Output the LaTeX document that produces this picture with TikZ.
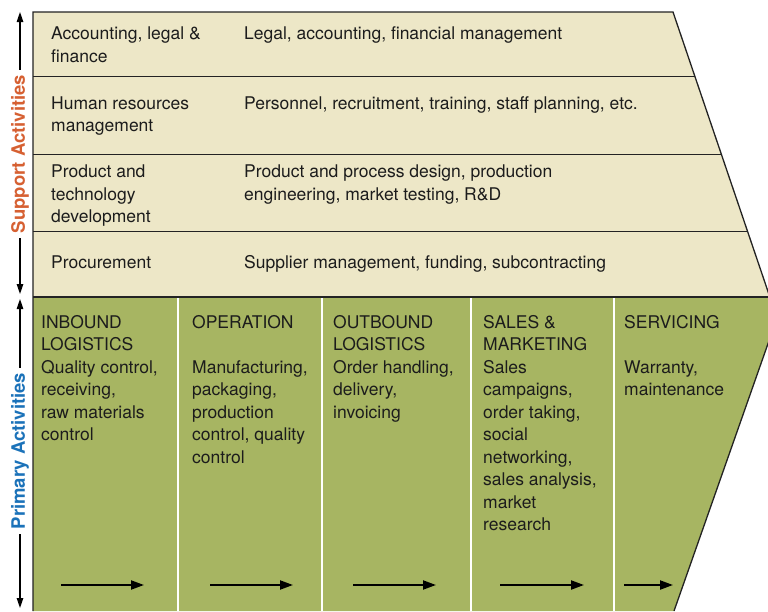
\documentclass[tikz,border=0pt]{standalone}
\usepackage{fontspec}
\setmainfont{TeX Gyre Heros}
\usetikzlibrary{arrows.meta}
\definecolor{suppbg}{RGB}{237,231,199}
\definecolor{primbg}{RGB}{167,181,98}
\definecolor{supporange}{RGB}{214,96,50}
\definecolor{primblue}{RGB}{27,114,185}
\definecolor{ink}{RGB}{28,28,28}
\definecolor{edge}{RGB}{35,35,35}
\begin{document}
\begin{tikzpicture}[x=1pt,y=-1pt,
  txt/.style={anchor=base west, inner sep=0pt, text=ink,
    font=\fontsize{17.5}{22.5}\selectfont},
  sidelbl/.style={rotate=90, inner sep=5pt,
    font=\fontsize{18.5}{20}\selectfont\bfseries},
  varrow/.style={draw=black, line width=1.2pt, -{Triangle[length=10pt,width=6.5pt]}},
  flowarrow/.style={draw=black, line width=2pt, -{Triangle[length=13pt,width=9pt]}},
  sepline/.style={draw=edge, line width=1pt},
  divline/.style={draw=white, line width=2.5pt}]
\useasboundingbox (0,0) rectangle (768,611);
\clip (0,0) rectangle (768,611);
% background shapes
\fill[suppbg] (33,12) -- (673,12) -- (769.9,297) -- (33,297) -- cycle;
\fill[primbg] (33,297) -- (769.9,297) -- (777,318) -- (674,611) -- (33,611) -- cycle;
% column dividers
\foreach \xx in {178,322,471,614} \draw[divline] (\xx,298) -- (\xx,611);
% row separators
\draw[sepline] (33,76) -- (694.8,76);
\draw[sepline] (33,154) -- (721.3,154);
\draw[sepline] (33,231) -- (747.5,231);
\draw[draw=edge, line width=1.3pt] (33,297) -- (769.9,297);
% outline
\draw[draw=edge, line width=1.3pt] (33,611) -- (33,12) -- (673,12) -- (777,318) -- (674,611);
% support texts
\node[txt] (acc) at (51,39.5) {\begin{tabular}[t]{@{}l@{}}Accounting, legal \&\\finance\end{tabular}};
\node[txt] (accd) at (244,39.5) {Legal, accounting, financial management};
\node[txt] (hrm) at (51,109) {\begin{tabular}[t]{@{}l@{}}Human resources\\management\end{tabular}};
\node[txt] (hrmd) at (244,109) {Personnel, recruitment, training, staff planning, etc.};
\node[txt] (ptd) at (51,177.5) {\begin{tabular}[t]{@{}l@{}}Product and\\technology\\development\end{tabular}};
\node[txt] (ptdd) at (244,177.5) {\begin{tabular}[t]{@{}l@{}}Product and process design, production\\engineering, market testing, R\&D\end{tabular}};
\node[txt] (proc) at (51,268) {Procurement};
\node[txt] (procd) at (244,268) {Supplier management, funding, subcontracting};
% primary texts
\node[txt] (inb) at (41,328) {\begin{tabular}[t]{@{}l@{}}INBOUND\\LOGISTICS\\Quality control,\\receiving,\\raw materials\\control\end{tabular}};
\node[txt] (ops) at (192,328) {\begin{tabular}[t]{@{}l@{}}OPERATION\\[22.5pt]Manufacturing,\\packaging,\\production\\control, quality\\control\end{tabular}};
\node[txt] (outb) at (333,328) {\begin{tabular}[t]{@{}l@{}}OUTBOUND\\LOGISTICS\\Order handling,\\delivery,\\invoicing\end{tabular}};
\node[txt] (sales) at (483,328) {\begin{tabular}[t]{@{}l@{}}SALES \&\\MARKETING\\Sales\\campaigns,\\order taking,\\social\\networking,\\sales analysis,\\market\\research\end{tabular}};
\node[txt] (serv) at (624,328) {\begin{tabular}[t]{@{}l@{}}SERVICING\\[22.5pt]Warranty,\\maintenance\end{tabular}};
% flow arrows
\coordinate (a1s) at (61,585); \coordinate (a1e) at (144,585);
\coordinate (a2s) at (210,585); \coordinate (a2e) at (293,585);
\coordinate (a3s) at (353,585); \coordinate (a3e) at (436,585);
\coordinate (a4s) at (500,585); \coordinate (a4e) at (584,585);
\coordinate (a5s) at (624,585); \coordinate (a5e) at (673,585);
\draw[flowarrow] (a1s) -- (a1e);
\draw[flowarrow] (a2s) -- (a2e);
\draw[flowarrow] (a3s) -- (a3e);
\draw[flowarrow] (a4s) -- (a4e);
\draw[flowarrow] (a5s) -- (a5e);
% side labels
\node[sidelbl, text=supporange] (sup) at (20,154) {Support Activities};
\coordinate (supT) at (20,12);
\coordinate (supB) at (20,294);
\draw[varrow] (sup.east) -- (supT);
\draw[varrow] (sup.west) -- (supB);
\node[sidelbl, text=primblue] (pri) at (20,451) {Primary Activities};
\coordinate (priT) at (20,299);
\coordinate (priB) at (20,608);
\draw[varrow] (pri.east) -- (priT);
\draw[varrow] (pri.west) -- (priB);
\end{tikzpicture}
\end{document}
